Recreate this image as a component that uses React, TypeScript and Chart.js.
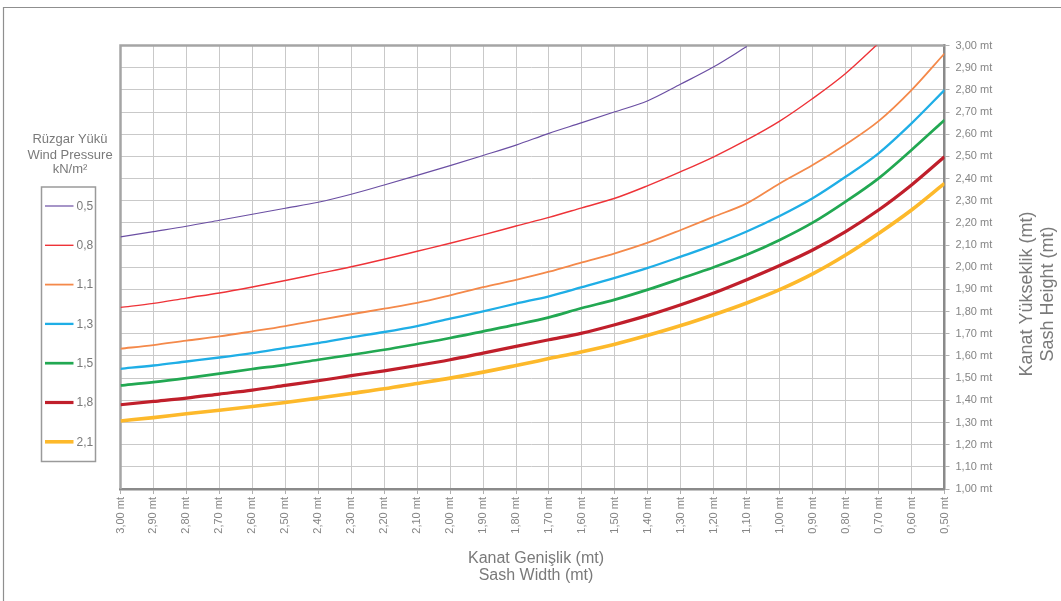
import React, { useEffect, useRef } from "react";
import { Chart, registerables } from "chart.js";

Chart.register(...registerables);

// Sash width (x, reversed axis) and sash height (y) tick values
const WIDTHS = [3.0, 2.9, 2.8, 2.7, 2.6, 2.5, 2.4, 2.3, 2.2, 2.1, 2.0, 1.9, 1.8, 1.7, 1.6, 1.5, 1.4, 1.3, 1.2, 1.1, 1.0, 0.9, 0.8, 0.7, 0.6, 0.5];
const HEIGHT_TICKS = [1.0, 1.1, 1.2, 1.3, 1.4, 1.5, 1.6, 1.7, 1.8, 1.9, 2.0, 2.1, 2.2, 2.3, 2.4, 2.5, 2.6, 2.7, 2.8, 2.9, 3.0];

// Max sash height per wind pressure, at each width in WIDTHS
const P_05 = [2.137, 2.161, 2.185, 2.212, 2.239, 2.266, 2.293, 2.329, 2.371, 2.414, 2.458, 2.504, 2.551, 2.604, 2.652, 2.701, 2.751, 2.826, 2.904, 2.995, null, null, null, null, null, null];
const P_08 = [1.819, 1.837, 1.861, 1.884, 1.911, 1.940, 1.971, 2.002, 2.036, 2.072, 2.108, 2.146, 2.186, 2.225, 2.268, 2.311, 2.368, 2.431, 2.498, 2.574, 2.659, 2.761, 2.874, 3.01, null, null];
const P_11 = [1.633, 1.649, 1.669, 1.688, 1.711, 1.735, 1.762, 1.788, 1.813, 1.839, 1.873, 1.910, 1.943, 1.980, 2.022, 2.063, 2.111, 2.168, 2.228, 2.288, 2.378, 2.461, 2.554, 2.659, 2.799, 2.964];
const P_13 = [1.542, 1.557, 1.575, 1.593, 1.613, 1.636, 1.658, 1.684, 1.708, 1.735, 1.768, 1.801, 1.836, 1.869, 1.910, 1.952, 1.997, 2.048, 2.101, 2.161, 2.231, 2.311, 2.408, 2.514, 2.649, 2.799];
const P_15 = [1.467, 1.482, 1.500, 1.520, 1.541, 1.560, 1.583, 1.605, 1.628, 1.654, 1.681, 1.711, 1.741, 1.774, 1.816, 1.854, 1.899, 1.949, 2.000, 2.056, 2.123, 2.201, 2.296, 2.401, 2.529, 2.664];
const P_18 = [1.380, 1.395, 1.410, 1.428, 1.446, 1.467, 1.488, 1.511, 1.533, 1.557, 1.583, 1.613, 1.643, 1.673, 1.703, 1.741, 1.783, 1.831, 1.884, 1.944, 2.008, 2.078, 2.161, 2.258, 2.371, 2.498];
const P_21 = [1.307, 1.322, 1.339, 1.355, 1.372, 1.390, 1.410, 1.431, 1.452, 1.476, 1.500, 1.527, 1.557, 1.588, 1.619, 1.653, 1.693, 1.737, 1.786, 1.839, 1.899, 1.970, 2.055, 2.152, 2.258, 2.378];

const SERIES = [P_05, P_08, P_11, P_13, P_15, P_18, P_21];
const SERIES_LABELS = ["0,5", "0,8", "1,1", "1,3", "1,5", "1,8", "2,1"];
const SERIES_COLORS = ["#6b4fa3", "#ee3338", "#f4894a", "#1faee6", "#22a852", "#c01f2b", "#fdb92b"];
const SERIES_WIDTHS = [1.2, 1.4, 1.8, 2.3, 2.7, 3.2, 3.6];

const LEGEND_TITLE = ["Rüzgar Yükü", "Wind Pressure", "kN/m²"];
const X_TITLE = ["Kanat Genişlik (mt)", "Sash Width (mt)"];
const Y_TITLE = ["Kanat Yükseklik (mt)", "Sash Height (mt)"];

const FONT = "'Liberation Sans', Arial, Helvetica, sans-serif";
const TEXT = "#7a7a7a";

const fmt = (v: number) => v.toFixed(2).replace(".", ",") + " mt";

const decor = {
  id: "decor",
  beforeDatasetsDraw(chart: any) {
    const { ctx, chartArea: a } = chart;
    ctx.save();
    ctx.strokeStyle = "#a5a5a5";
    ctx.lineWidth = 2.5;
    ctx.beginPath();
    ctx.moveTo(a.left, a.bottom);
    ctx.lineTo(a.left, a.top);
    ctx.lineTo(a.right, a.top);
    ctx.stroke();
    ctx.restore();
  },
  afterDraw(chart: any) {
    const { ctx } = chart;
    ctx.save();
    // outer frame
    ctx.strokeStyle = "#8f8f8f";
    ctx.lineWidth = 1.2;
    ctx.beginPath();
    ctx.moveTo(3.5, 620);
    ctx.lineTo(3.5, 7.5);
    ctx.lineTo(1080, 7.5);
    ctx.stroke();

    // legend title
    ctx.fillStyle = TEXT;
    ctx.font = `13px ${FONT}`;
    ctx.textAlign = "center";
    ctx.textBaseline = "alphabetic";
    const tb = [143, 159, 172.5];
    LEGEND_TITLE.forEach((t, i) => ctx.fillText(t, 70, tb[i]));

    // legend box
    ctx.strokeStyle = "#9a9a9a";
    ctx.lineWidth = 1.5;
    ctx.strokeRect(41.5, 187, 54, 274.5);
    ctx.font = `12px ${FONT}`;
    ctx.textAlign = "left";
    ctx.textBaseline = "middle";
    SERIES_LABELS.forEach((lab, i) => {
      const y = 206 + i * 39.3;
      ctx.strokeStyle = SERIES_COLORS[i];
      ctx.lineWidth = SERIES_WIDTHS[i];
      ctx.beginPath();
      ctx.moveTo(45, y);
      ctx.lineTo(73.5, y);
      ctx.stroke();
      ctx.fillStyle = TEXT;
      ctx.fillText(lab, 76.5, y + 0.5);
    });

    // x axis title
    ctx.fillStyle = TEXT;
    ctx.font = `16px ${FONT}`;
    ctx.textAlign = "center";
    ctx.textBaseline = "alphabetic";
    ctx.fillText(X_TITLE[0], 536, 562.5);
    ctx.fillText(X_TITLE[1], 536, 580);

    // y axis title (rotated)
    ctx.font = `18px ${FONT}`;
    const bx = [1031.5, 1052.5];
    Y_TITLE.forEach((t, i) => {
      ctx.save();
      ctx.translate(bx[i], 294);
      ctx.rotate(-Math.PI / 2);
      ctx.fillText(t, 0, 0);
      ctx.restore();
    });
    ctx.restore();
  },
};

export default function App() {
  const ref = useRef<HTMLCanvasElement | null>(null);

  useEffect(() => {
    if (!ref.current) return;
    const datasets = SERIES.map((vals, i) => ({
      label: SERIES_LABELS[i],
      data: WIDTHS.map((w, j) => ({ x: w, y: vals[j] })),
      borderColor: SERIES_COLORS[i],
      backgroundColor: SERIES_COLORS[i],
      borderWidth: SERIES_WIDTHS[i],
      pointRadius: 0,
      pointHoverRadius: 0,
      fill: false,
      cubicInterpolationMode: "monotone" as const,
      spanGaps: false,
    }));

    const chart = new Chart(ref.current, {
      type: "line",
      data: { datasets },
      plugins: [decor],
      options: {
        animation: false,
        responsive: false,
        devicePixelRatio: 1,
        parsing: false as any,
        layout: { padding: { left: 120.5, top: 45.5, right: 0, bottom: 0 } },
        plugins: {
          legend: { display: false },
          tooltip: { enabled: false },
          title: { display: false },
        },
        scales: {
          x: {
            type: "linear",
            position: "bottom",
            reverse: true,
            min: 0.5,
            max: 3.0,
            afterBuildTicks: (scale: any) => {
              scale.ticks = WIDTHS.map((v) => ({ value: v }));
            },
            afterFit: (scale: any) => {
              scale.height = 112;
            },
            ticks: {
              minRotation: 90,
              maxRotation: 90,
              autoSkip: false,
              padding: 3,
              color: "#858585",
              font: { family: FONT, size: 11 },
              callback: (v: any) => fmt(Number(v)),
            },
            grid: {
              color: "#c9c9c9",
              lineWidth: 1,
              tickLength: 5,
              tickColor: "#b0b0b0",
            },
            border: { color: "#8a8a8a", width: 2.5 },
          },
          y: {
            type: "linear",
            position: "right",
            min: 1.0,
            max: 3.0,
            afterBuildTicks: (scale: any) => {
              scale.ticks = HEIGHT_TICKS.map((v) => ({ value: v }));
            },
            afterFit: (scale: any) => {
              scale.width = 116.5;
            },
            ticks: {
              autoSkip: false,
              padding: 6,
              color: "#858585",
              font: { family: FONT, size: 11 },
              callback: (v: any) => fmt(Number(v)),
            },
            grid: {
              color: "#c9c9c9",
              lineWidth: 1,
              tickLength: 5,
              tickColor: "#b0b0b0",
            },
            border: { color: "#8a8a8a", width: 2.5 },
          },
        },
      } as any,
    });
    return () => chart.destroy();
  }, []);

  return (
    <div style={{ position: "fixed", left: 0, top: 0, width: 1061, height: 601, background: "#fff" }}>
      <canvas ref={ref} width={1061} height={601} style={{ display: "block", width: 1061, height: 601 }} />
    </div>
  );
}
